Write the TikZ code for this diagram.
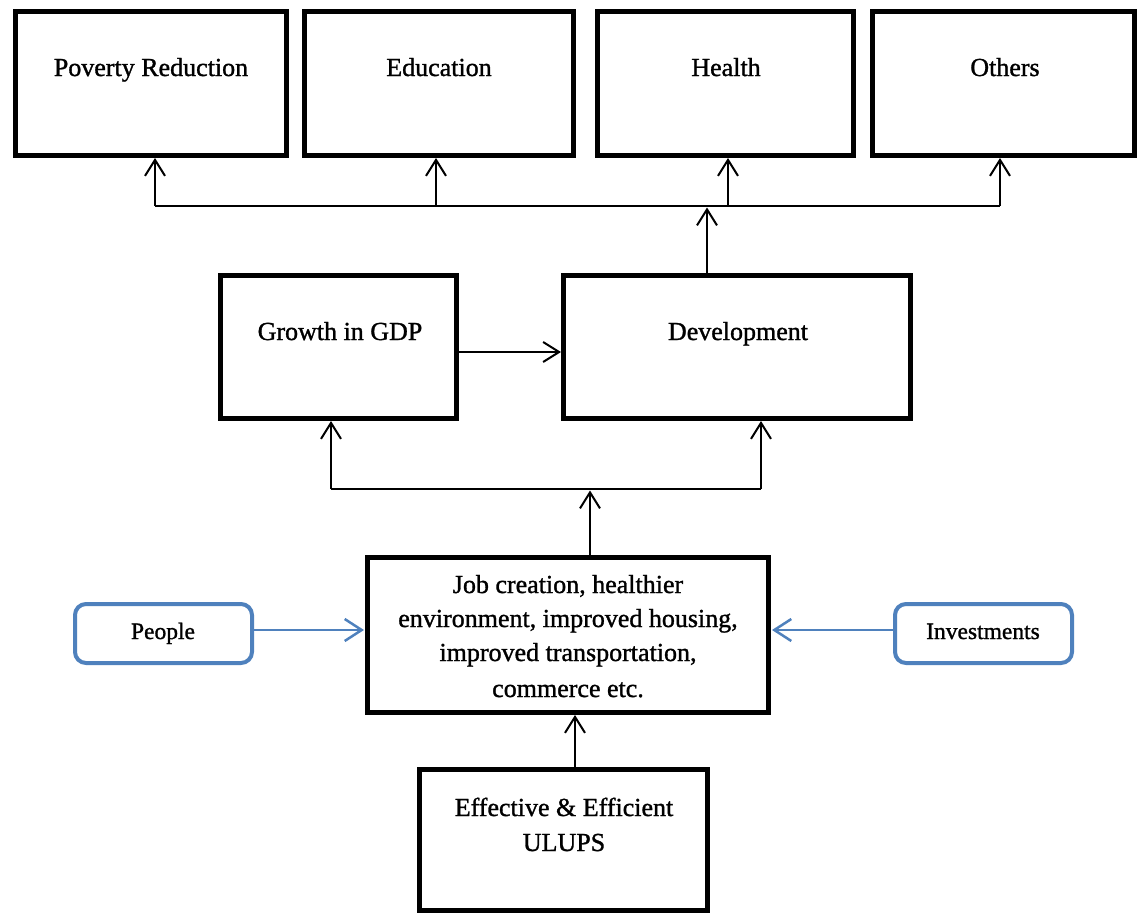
\documentclass[tikz,border=0pt]{standalone}
\usepackage{fontspec}
\setmainfont{Liberation Serif}[FakeBold=1.2]
\usetikzlibrary{arrows.meta}
\definecolor{boxblue}{HTML}{4F81BD}
\tikzset{
  thickbox/.style={draw=black,line width=5pt,fill=white},
  bluebox/.style={draw=boxblue,line width=4pt,rounded corners=11pt,fill=white},
  txt/.style={anchor=base,inner sep=0pt,font=\fontsize{26}{35}\selectfont},
  btxt/.style={anchor=base,inner sep=0pt,font=\fontsize{23.5}{30}\selectfont},
  arr/.style={draw=black,line width=2pt,-{Straight Barb[length=16pt,width=20pt,line width=2pt]}},
  barr/.style={draw=boxblue,line width=2.5pt,-{Straight Barb[length=17pt,width=22pt,line width=2.5pt]}},
  bus/.style={draw=black,line width=1.5pt},
}
\begin{document}
\begin{tikzpicture}[x=1pt,y=-1pt]
\useasboundingbox (0,0) rectangle (1138,913);
% top boxes
\draw[thickbox] (15.5,11.5) rectangle (286.5,155);
\draw[thickbox] (304.5,11.5) rectangle (573.5,155);
\draw[thickbox] (597.5,11.5) rectangle (853.5,155);
\draw[thickbox] (872.5,11.5) rectangle (1134.5,155);
\coordinate (povb) at (155,158);
\coordinate (edub) at (436,158);
\coordinate (heab) at (728,158);
\coordinate (othb) at (1000,158);
\node[txt] (povt) at (151,76) {Poverty Reduction};
\node[txt] (edut) at (439,76) {Education};
\node[txt] (heat) at (726,76) {Health};
\node[txt] (otht) at (1005,76) {Others};
% bus top
\coordinate (b1) at (155,206);
\coordinate (b2) at (436,206);
\coordinate (b3) at (728,206);
\coordinate (b4) at (1000,206);
\coordinate (b0) at (707,207.5);
\draw[bus] (b1) -- (b4);
\draw[arr] (b1) -- (povb);
\draw[arr] (b2) -- (edub);
\draw[arr] (b3) -- (heab);
\draw[arr] (b4) -- (othb);
% middle boxes
\draw[thickbox] (220.5,275.5) rectangle (456.5,418);
\draw[thickbox] (563.5,275.5) rectangle (910.5,418);
\node[txt] (gdpt) at (340,340) {Growth in GDP};
\node[txt] (devt) at (738,340) {Development};
\coordinate (devtop) at (707,273);
\draw[arr] (devtop) -- (b0);
\coordinate (gdpr) at (459,352);
\coordinate (devl) at (561,352);
\draw[arr] (gdpr) -- (devl);
% bus middle
\coordinate (m1) at (331,489);
\coordinate (m2) at (761,489);
\coordinate (m0) at (590,490.5);
\coordinate (gdpb) at (331,421);
\coordinate (devb) at (761,421);
\draw[bus] (m1) -- (m2);
\draw[arr] (m1) -- (gdpb);
\draw[arr] (m2) -- (devb);
% job box
\draw[thickbox] (367.5,557.5) rectangle (768.5,712);
\node[txt] (j1) at (568,593) {Job creation, healthier};
\node[txt] (j2) at (568,627) {environment, improved housing,};
\node[txt] (j3) at (568,661) {improved transportation,};
\node[txt] (j4) at (568,697) {commerce etc.};
\coordinate (jobt) at (590,555);
\draw[arr] (jobt) -- (m0);
% blue boxes
\draw[bluebox] (75,604) rectangle (252,663);
\draw[bluebox] (895,604) rectangle (1072,663);
\node[btxt] (peot) at (163,639) {People};
\node[btxt] (invt) at (983,639) {Investments};
\coordinate (peor) at (254,630);
\coordinate (jobl) at (364,630);
\coordinate (invl) at (893,630);
\coordinate (jobr) at (772,630);
\draw[barr] (peor) -- (jobl);
\draw[barr] (invl) -- (jobr);
% ULUPS box
\draw[thickbox] (419.5,769.5) rectangle (707.5,910.5);
\node[txt] (u1) at (564,816) {Effective \& Efficient};
\node[txt] (u2) at (564,851) {ULUPS};
\coordinate (ulut) at (575,767);
\coordinate (jobb) at (575,715);
\draw[arr] (ulut) -- (jobb);
\end{tikzpicture}
\end{document}
